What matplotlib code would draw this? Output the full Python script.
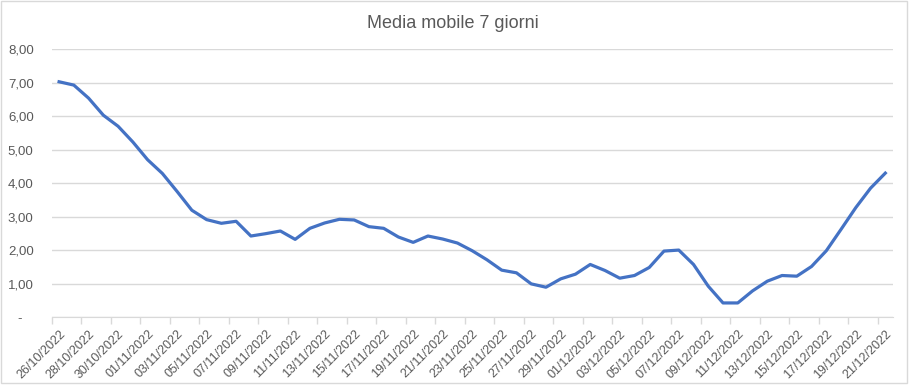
import matplotlib.pyplot as plt
from matplotlib.patches import Rectangle
from matplotlib.ticker import FixedLocator, FuncFormatter
import datetime as dt

# daily categories 26/10/2022 .. 21/12/2022
start = dt.date(2022, 10, 26)
dates = [start + dt.timedelta(days=i) for i in range(57)]
labels = [d.strftime('%d/%m/%Y') for d in dates]

media_mobile = [7.03, 6.93, 6.54, 6.03, 5.70, 5.23, 4.70, 4.29, 3.75, 3.19,
                2.91, 2.80, 2.86, 2.42, 2.49, 2.57, 2.32, 2.65, 2.81, 2.92,
                2.90, 2.70, 2.65, 2.39, 2.23, 2.42, 2.33, 2.21, 1.98, 1.71,
                1.40, 1.32, 0.99, 0.89, 1.14, 1.28, 1.57, 1.39, 1.16, 1.24,
                1.48, 1.97, 2.00, 1.57, 0.92, 0.42, 0.42, 0.78, 1.07, 1.24,
                1.22, 1.51, 1.98, 2.62, 3.27, 3.85, 4.30]

yticks = [0, 1, 2, 3, 4, 5, 6, 7, 8]

grey_txt = '#595959'
grid_c = '#D9D9D9'

plt.rcParams['font.family'] = ['Liberation Sans', 'DejaVu Sans']

fig = plt.figure(figsize=(9.1, 3.85), dpi=100)
ax = fig.add_axes([51.7 / 910, 68 / 385, 841 / 910, 267.7 / 385])

x = list(range(len(media_mobile)))
ax.plot(x, media_mobile, color='#4472C4', linewidth=2.3, solid_joinstyle='round')

ax.set_xlim(-0.5, len(x) - 0.5)
ax.set_ylim(0, 8)
ax.set_yticks(yticks)
ax.yaxis.set_major_formatter(FuncFormatter(lambda v, p: '-   ' if v == 0 else f'{v:.2f}'.replace('.', ',')))
ax.grid(axis='y', color=grid_c, linewidth=1)
ax.set_axisbelow(True)

# tick marks on category boundaries, labels at category centres
ax.xaxis.set_major_locator(FixedLocator([i - 0.5 for i in range(0, len(x), 2)]))
ax.xaxis.set_major_formatter(FuncFormatter(lambda v, p: ''))
ax.xaxis.set_minor_locator(FixedLocator(list(range(0, len(x), 2))))
ax.set_xticklabels(labels[::2], minor=True, rotation=45, ha='right',
                   rotation_mode='anchor', fontsize=9, color=grey_txt)
ax.tick_params(axis='x', which='major', length=5, color=grid_c, width=1)
ax.tick_params(axis='x', which='minor', length=0, pad=8)
ax.tick_params(axis='y', length=0, pad=13, labelsize=9.5, labelcolor=grey_txt)

for s in ['top', 'right', 'left']:
    ax.spines[s].set_visible(False)
ax.spines['bottom'].set_color(grid_c)

fig.text(0.498, 0.94, 'Media mobile 7 giorni', ha='center', va='center',
         fontsize=13, color=grey_txt)

fig.patches.append(Rectangle((0.5 / 910, 2 / 385), 906 / 910, 382 / 385,
                             transform=fig.transFigure, fill=False,
                             edgecolor=grid_c, linewidth=1))

fig.savefig('out.png', dpi=100)
